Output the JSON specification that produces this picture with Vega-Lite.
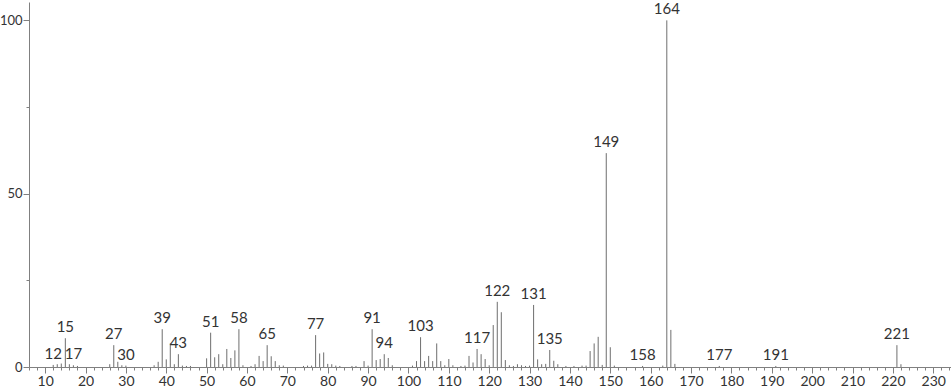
{
  "$schema": "https://vega.github.io/schema/vega-lite/v6.json",
  "width": 922,
  "height": 365,
  "autosize": "none",
  "padding": {"left": 29, "top": 2, "right": 0, "bottom": 22},
  "background": "white",
  "config": {"view": {"stroke": null}},
  "data": {"values": [
    {"mz": 12, "intensity": 0.6, "label": true},
    {"mz": 13, "intensity": 0.8, "label": false},
    {"mz": 14, "intensity": 1.0, "label": false},
    {"mz": 15, "intensity": 8.3, "label": true},
    {"mz": 16, "intensity": 0.8, "label": false},
    {"mz": 17, "intensity": 0.5, "label": true},
    {"mz": 18, "intensity": 0.3, "label": false},
    {"mz": 26, "intensity": 0.8, "label": false},
    {"mz": 27, "intensity": 6.3, "label": true},
    {"mz": 28, "intensity": 1.5, "label": false},
    {"mz": 29, "intensity": 0.5, "label": false},
    {"mz": 30, "intensity": 0.4, "label": true},
    {"mz": 37, "intensity": 0.5, "label": false},
    {"mz": 38, "intensity": 1.5, "label": false},
    {"mz": 39, "intensity": 10.9, "label": true},
    {"mz": 40, "intensity": 2.2, "label": false},
    {"mz": 41, "intensity": 6.8, "label": false},
    {"mz": 42, "intensity": 0.8, "label": false},
    {"mz": 43, "intensity": 3.7, "label": true},
    {"mz": 44, "intensity": 0.4, "label": false},
    {"mz": 45, "intensity": 0.3, "label": false},
    {"mz": 46, "intensity": 0.3, "label": false},
    {"mz": 50, "intensity": 2.5, "label": false},
    {"mz": 51, "intensity": 9.9, "label": true},
    {"mz": 52, "intensity": 2.8, "label": false},
    {"mz": 53, "intensity": 3.7, "label": false},
    {"mz": 54, "intensity": 0.8, "label": false},
    {"mz": 55, "intensity": 5.2, "label": false},
    {"mz": 56, "intensity": 2.6, "label": false},
    {"mz": 57, "intensity": 4.8, "label": false},
    {"mz": 58, "intensity": 10.9, "label": true},
    {"mz": 59, "intensity": 0.5, "label": false},
    {"mz": 61, "intensity": 0.3, "label": false},
    {"mz": 62, "intensity": 0.8, "label": false},
    {"mz": 63, "intensity": 3.2, "label": false},
    {"mz": 64, "intensity": 1.7, "label": false},
    {"mz": 65, "intensity": 6.3, "label": true},
    {"mz": 66, "intensity": 3.1, "label": false},
    {"mz": 67, "intensity": 1.7, "label": false},
    {"mz": 68, "intensity": 0.5, "label": false},
    {"mz": 69, "intensity": 0.4, "label": false},
    {"mz": 74, "intensity": 0.3, "label": false},
    {"mz": 75, "intensity": 0.4, "label": false},
    {"mz": 76, "intensity": 0.4, "label": false},
    {"mz": 77, "intensity": 9.2, "label": true},
    {"mz": 78, "intensity": 3.9, "label": false},
    {"mz": 79, "intensity": 4.2, "label": false},
    {"mz": 80, "intensity": 0.9, "label": false},
    {"mz": 81, "intensity": 0.8, "label": false},
    {"mz": 82, "intensity": 0.4, "label": false},
    {"mz": 83, "intensity": 0.3, "label": false},
    {"mz": 86, "intensity": 0.3, "label": false},
    {"mz": 87, "intensity": 0.3, "label": false},
    {"mz": 89, "intensity": 1.7, "label": false},
    {"mz": 90, "intensity": 0.4, "label": false},
    {"mz": 91, "intensity": 10.9, "label": true},
    {"mz": 92, "intensity": 2.0, "label": false},
    {"mz": 93, "intensity": 2.3, "label": false},
    {"mz": 94, "intensity": 3.7, "label": true},
    {"mz": 95, "intensity": 2.6, "label": false},
    {"mz": 96, "intensity": 0.5, "label": false},
    {"mz": 101, "intensity": 0.4, "label": false},
    {"mz": 102, "intensity": 1.7, "label": false},
    {"mz": 103, "intensity": 8.6, "label": true},
    {"mz": 104, "intensity": 1.7, "label": false},
    {"mz": 105, "intensity": 3.2, "label": false},
    {"mz": 106, "intensity": 1.7, "label": false},
    {"mz": 107, "intensity": 6.8, "label": false},
    {"mz": 108, "intensity": 1.7, "label": false},
    {"mz": 109, "intensity": 0.5, "label": false},
    {"mz": 110, "intensity": 2.3, "label": false},
    {"mz": 111, "intensity": 0.5, "label": false},
    {"mz": 113, "intensity": 0.3, "label": false},
    {"mz": 114, "intensity": 0.4, "label": false},
    {"mz": 115, "intensity": 3.2, "label": false},
    {"mz": 116, "intensity": 1.3, "label": false},
    {"mz": 117, "intensity": 5.2, "label": true},
    {"mz": 118, "intensity": 3.7, "label": false},
    {"mz": 119, "intensity": 2.3, "label": false},
    {"mz": 120, "intensity": 0.5, "label": false},
    {"mz": 121, "intensity": 12.1, "label": false},
    {"mz": 122, "intensity": 18.8, "label": true},
    {"mz": 123, "intensity": 15.8, "label": false},
    {"mz": 124, "intensity": 2.0, "label": false},
    {"mz": 125, "intensity": 0.5, "label": false},
    {"mz": 126, "intensity": 0.3, "label": false},
    {"mz": 127, "intensity": 0.8, "label": false},
    {"mz": 128, "intensity": 0.5, "label": false},
    {"mz": 129, "intensity": 0.3, "label": false},
    {"mz": 130, "intensity": 0.4, "label": false},
    {"mz": 131, "intensity": 17.9, "label": true},
    {"mz": 132, "intensity": 2.2, "label": false},
    {"mz": 133, "intensity": 0.8, "label": false},
    {"mz": 134, "intensity": 0.9, "label": false},
    {"mz": 135, "intensity": 4.9, "label": true},
    {"mz": 136, "intensity": 1.8, "label": false},
    {"mz": 137, "intensity": 0.8, "label": false},
    {"mz": 139, "intensity": 0.3, "label": false},
    {"mz": 141, "intensity": 0.3, "label": false},
    {"mz": 143, "intensity": 0.4, "label": false},
    {"mz": 144, "intensity": 0.4, "label": false},
    {"mz": 145, "intensity": 4.6, "label": false},
    {"mz": 146, "intensity": 6.8, "label": false},
    {"mz": 147, "intensity": 8.7, "label": false},
    {"mz": 148, "intensity": 0.6, "label": false},
    {"mz": 149, "intensity": 61.7, "label": true},
    {"mz": 150, "intensity": 5.7, "label": false},
    {"mz": 151, "intensity": 0.4, "label": false},
    {"mz": 158, "intensity": 0.3, "label": true},
    {"mz": 163, "intensity": 0.4, "label": false},
    {"mz": 164, "intensity": 100, "label": true},
    {"mz": 165, "intensity": 10.7, "label": false},
    {"mz": 166, "intensity": 0.9, "label": false},
    {"mz": 177, "intensity": 0.3, "label": true},
    {"mz": 191, "intensity": 0.3, "label": true},
    {"mz": 221, "intensity": 6.3, "label": true},
    {"mz": 222, "intensity": 0.8, "label": false}
  ]},
  "encoding": {
    "x": {
      "field": "mz", "type": "quantitative",
      "scale": {"domain": [6, 234.4], "nice": false, "zero": false},
      "axis": {
        "title": null,
        "values": [6,8,10,12,14,16,18,20,22,24,26,28,30,32,34,36,38,40,42,44,46,48,50,52,54,56,58,60,62,64,66,68,70,72,74,76,78,80,82,84,86,88,90,92,94,96,98,100,102,104,106,108,110,112,114,116,118,120,122,124,126,128,130,132,134,136,138,140,142,144,146,148,150,152,154,156,158,160,162,164,166,168,170,172,174,176,178,180,182,184,186,188,190,192,194,196,198,200,202,204,206,208,210,212,214,216,218,220,222,224,226,228,230,232,234],
        "labelExpr": "datum.value % 10 === 0 ? datum.label : ''",
        "tickSize": {"condition": {"test": "datum.value % 10 === 0", "value": 6}, "value": 3},
        "ticks": true,
        "grid": false,
        "domainColor": "#808080",
        "tickColor": "#808080",
        "labelColor": "#333333",
        "labelFont": "Lato",
        "labelFontSize": 14,
        "labelPadding": 1,
        "labelFlush": false,
        "labelOverlap": false
      }
    },
    "y": {
      "field": "intensity", "type": "quantitative",
      "scale": {"domain": [0, 105.3], "nice": false},
      "axis": {
        "title": null,
        "values": [0, 25, 50, 75, 100],
        "labelExpr": "datum.value % 50 === 0 ? datum.label : ''",
        "tickSize": {"condition": {"test": "datum.value % 50 === 0", "value": 6}, "value": 3},
        "ticks": true,
        "grid": false,
        "domainColor": "#808080",
        "tickColor": "#808080",
        "labelColor": "#333333",
        "labelFont": "Lato",
        "labelFontSize": 13,
        "labelPadding": 1,
        "labelFlush": false,
        "labelOverlap": false
      }
    }
  },
  "layer": [
    {
      "mark": {"type": "rule", "color": "#6e6e6e", "strokeWidth": 1},
      "encoding": {
        "y2": {"datum": 0}
      }
    },
    {
      "transform": [{"filter": "datum.label"}],
      "mark": {"type": "text", "baseline": "alphabetic", "align": "center", "dy": -6, "font": "Lato", "fontSize": 15, "color": "#333333"},
      "encoding": {
        "text": {"field": "mz", "type": "quantitative"}
      }
    }
  ]
}
